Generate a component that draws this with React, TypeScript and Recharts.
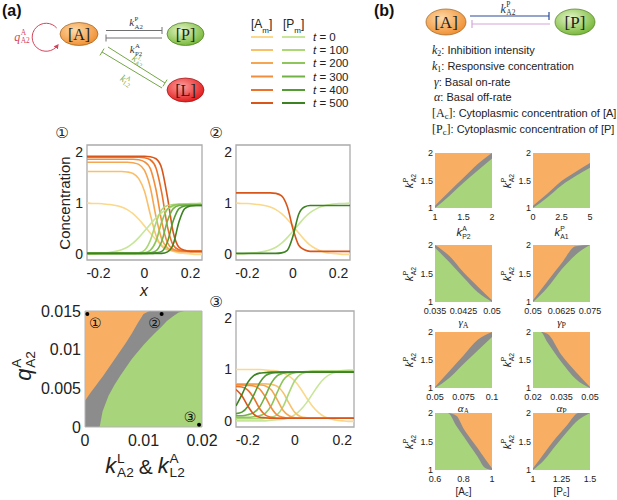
import React from 'react';
import { LineChart, Line, XAxis, YAxis, ComposedChart, Area, ReferenceArea, Scatter } from 'recharts';

const SANS = '"Liberation Sans", Arial, sans-serif';
const SERIF = '"Liberation Serif", "Times New Roman", serif';
const CIRC = '"DejaVu Sans", "Noto Sans CJK JP", sans-serif';

const A_COLORS = ['#FBD88A', '#F9C06A', '#F6A651', '#F28D3C', '#EA722A', '#D9561A'];
const P_COLORS = ['#C8E69A', '#ABD776', '#8FC65C', '#72B146', '#559B33', '#3D8222'];
const HM_ORANGE = '#F8AF63';
const HM_GRAY = '#8C8C8C';
const HM_GREEN = '#A8D47C';

const timeLabels = ['0', '100', '200', '300', '400', '500'];

// x positions of the concentration profiles
const xGrid = [-0.25, -0.225, -0.2, -0.175, -0.15, -0.125, -0.1, -0.075, -0.05, -0.025, 0, 0.025, 0.05, 0.075, 0.1, 0.125, 0.15, 0.175, 0.2, 0.225, 0.25];

// t = 0 profiles (panels 1 and 2)
const aT0 = [1.0, 0.99, 0.99, 0.98, 0.97, 0.95, 0.92, 0.87, 0.79, 0.68, 0.55, 0.41, 0.28, 0.17, 0.10, 0.05, 0.02, 0.01, 0.0, -0.01, -0.01];
const pT0 = [0.0, 0.0, 0.01, 0.02, 0.03, 0.05, 0.08, 0.13, 0.21, 0.32, 0.45, 0.58, 0.71, 0.81, 0.88, 0.93, 0.96, 0.98, 0.99, 0.99, 1.0];

// panel 1
const p1A100 = [1.62, 1.62, 1.62, 1.62, 1.62, 1.62, 1.62, 1.61, 1.58, 1.48, 1.23, 0.78, 0.36, 0.15, 0.08, 0.06, 0.05, 0.05, 0.05, 0.05, 0.05];
const p1A200 = [1.8, 1.8, 1.8, 1.8, 1.8, 1.8, 1.8, 1.8, 1.79, 1.76, 1.64, 1.31, 0.73, 0.29, 0.12, 0.07, 0.05, 0.05, 0.05, 0.05, 0.05];
const p1A300 = [1.86, 1.86, 1.86, 1.86, 1.86, 1.86, 1.86, 1.86, 1.86, 1.85, 1.81, 1.68, 1.26, 0.63, 0.22, 0.09, 0.06, 0.05, 0.05, 0.05, 0.05];
const p1A400 = [1.9, 1.9, 1.9, 1.9, 1.9, 1.9, 1.9, 1.9, 1.9, 1.9, 1.89, 1.85, 1.69, 1.2, 0.53, 0.17, 0.08, 0.06, 0.05, 0.05, 0.05];
const p1A500 = [1.92, 1.92, 1.92, 1.92, 1.92, 1.92, 1.92, 1.92, 1.92, 1.92, 1.92, 1.91, 1.87, 1.68, 1.11, 0.42, 0.13, 0.07, 0.05, 0.05, 0.05];
const p1P100 = [0.01, 0.01, 0.01, 0.01, 0.01, 0.01, 0.01, 0.01, 0.01, 0.02, 0.07, 0.26, 0.61, 0.87, 0.95, 0.97, 0.98, 0.98, 0.98, 0.98, 0.98];
const p1P200 = [0.01, 0.01, 0.01, 0.01, 0.01, 0.01, 0.01, 0.01, 0.01, 0.01, 0.02, 0.07, 0.25, 0.63, 0.88, 0.95, 0.97, 0.97, 0.97, 0.97, 0.97];
const p1P300 = [0.01, 0.01, 0.01, 0.01, 0.01, 0.01, 0.01, 0.01, 0.01, 0.01, 0.01, 0.02, 0.06, 0.25, 0.65, 0.89, 0.95, 0.96, 0.96, 0.96, 0.96];
const p1P400 = [0.01, 0.01, 0.01, 0.01, 0.01, 0.01, 0.01, 0.01, 0.01, 0.01, 0.01, 0.01, 0.02, 0.05, 0.24, 0.65, 0.89, 0.94, 0.95, 0.95, 0.95];
const p1P500 = [0.01, 0.01, 0.01, 0.01, 0.01, 0.01, 0.01, 0.01, 0.01, 0.01, 0.01, 0.01, 0.01, 0.01, 0.04, 0.19, 0.63, 0.89, 0.94, 0.95, 0.95];

// panel 2
const p2A500 = [1.2, 1.2, 1.2, 1.2, 1.2, 1.2, 1.2, 1.19, 1.14, 0.93, 0.49, 0.17, 0.08, 0.05, 0.05, 0.05, 0.05, 0.05, 0.05, 0.05, 0.05];
const p2P500 = [0.01, 0.01, 0.01, 0.01, 0.01, 0.01, 0.01, 0.01, 0.02, 0.07, 0.35, 0.78, 0.92, 0.95, 0.95, 0.95, 0.95, 0.95, 0.95, 0.95, 0.95];

// panel 3
const p3A0 = [1, 1, 1, 1, 1, 0.99, 0.98, 0.97, 0.93, 0.87, 0.77, 0.62, 0.44, 0.28, 0.16, 0.08, 0.04, 0.01, 0, -0.01, -0.01];
const p3A100 = [0.72, 0.72, 0.72, 0.72, 0.72, 0.72, 0.71, 0.67, 0.55, 0.34, 0.16, 0.08, 0.06, 0.05, 0.05, 0.05, 0.05, 0.05, 0.05, 0.05, 0.05];
const p3A200 = [0.71, 0.71, 0.71, 0.71, 0.7, 0.68, 0.6, 0.41, 0.2, 0.1, 0.06, 0.05, 0.05, 0.05, 0.05, 0.05, 0.05, 0.05, 0.05, 0.05, 0.05];
const p3A300 = [0.7, 0.7, 0.69, 0.68, 0.62, 0.46, 0.25, 0.11, 0.07, 0.05, 0.05, 0.05, 0.05, 0.05, 0.05, 0.05, 0.05, 0.05, 0.05, 0.05, 0.05];
const p3A400 = [0.67, 0.66, 0.6, 0.45, 0.24, 0.11, 0.07, 0.05, 0.05, 0.05, 0.05, 0.05, 0.05, 0.05, 0.05, 0.05, 0.05, 0.05, 0.05, 0.05, 0.05];
const p3A500 = [0.61, 0.49, 0.29, 0.13, 0.07, 0.06, 0.05, 0.05, 0.05, 0.05, 0.05, 0.05, 0.05, 0.05, 0.05, 0.05, 0.05, 0.05, 0.05, 0.05, 0.05];
const p3P0 = [0, 0, 0, 0, 0, 0, 0.01, 0.02, 0.03, 0.06, 0.12, 0.22, 0.36, 0.53, 0.7, 0.83, 0.91, 0.95, 0.98, 0.99, 0.99];
const p3P100 = [0.04, 0.04, 0.04, 0.04, 0.04, 0.05, 0.07, 0.12, 0.28, 0.55, 0.79, 0.91, 0.95, 0.97, 0.97, 0.97, 0.97, 0.97, 0.97, 0.97, 0.97];
const p3P200 = [0.07, 0.07, 0.07, 0.08, 0.1, 0.15, 0.3, 0.56, 0.79, 0.9, 0.94, 0.95, 0.96, 0.96, 0.96, 0.96, 0.96, 0.96, 0.96, 0.96, 0.96];
const p3P300 = [0.1, 0.1, 0.12, 0.16, 0.27, 0.49, 0.74, 0.88, 0.93, 0.94, 0.95, 0.95, 0.95, 0.95, 0.95, 0.95, 0.95, 0.95, 0.95, 0.95, 0.95];
const p3P400 = [0.14, 0.17, 0.28, 0.5, 0.74, 0.88, 0.93, 0.94, 0.95, 0.95, 0.95, 0.95, 0.95, 0.95, 0.95, 0.95, 0.95, 0.95, 0.95, 0.95, 0.95];
const p3P500 = [0.29, 0.51, 0.75, 0.88, 0.93, 0.94, 0.95, 0.95, 0.95, 0.95, 0.95, 0.95, 0.95, 0.95, 0.95, 0.95, 0.95, 0.95, 0.95, 0.95, 0.95];

// phase diagram (a): boundaries of the grey band vs k
const hmX = [0, 0.001, 0.002, 0.0025, 0.003, 0.004, 0.005, 0.006, 0.007, 0.008, 0.009, 0.01, 0.011, 0.012, 0.013, 0.014, 0.015, 0.016, 0.017, 0.018, 0.019, 0.02];
const hmOrangeEdge = [0.0034, 0.0045, 0.0055, 0.006, 0.0065, 0.0076, 0.0087, 0.0098, 0.0109, 0.0121, 0.0134, 0.0146, 0.015, 0.015, 0.015, 0.015, 0.015, 0.015, 0.015, 0.015, 0.015, 0.015];
const hmGreenEdge = [0, 0, 0, 0, 0.002, 0.004, 0.0054, 0.0066, 0.0077, 0.0088, 0.0097, 0.0106, 0.0114, 0.0122, 0.0129, 0.0137, 0.0143, 0.0148, 0.015, 0.015, 0.015, 0.015];
const markerX = [0.0004, 0.0131, 0.0195];
const markerY = [0.0146, 0.0146, 0.0003];
const markerText = ['①', '②', '③'];
const markerTextOffset = [[8, 9], [-7, 9], [-9, -8]];

// panel (b) mini phase diagrams
const b1X = [1, 1.25, 1.5, 1.75, 2];
const b1Lo = [1, 1.22, 1.46, 1.68, 1.9];
const b1Hi = [1.04, 1.3, 1.55, 1.8, 2];
const b2X = [0, 1.25, 2.5, 3.75, 5];
const b2Lo = [1, 1.19, 1.41, 1.58, 1.73];
const b2Hi = [1.04, 1.26, 1.49, 1.66, 1.82];
const b3X = [0.035, 0.03875, 0.0425, 0.04625, 0.05];
const b3Lo = [1.95, 1.7, 1.43, 1.17, 1.0];
const b3Hi = [2, 1.81, 1.52, 1.27, 1.03];
const b4X = [0.05, 0.05625, 0.0625, 0.06875, 0.075];
const b4Lo = [1, 1.25, 1.57, 1.83, 2];
const b4Hi = [1.03, 1.36, 1.68, 1.98, 2];
const b5X = [0.05, 0.0625, 0.075, 0.0875, 0.1];
const b5Lo = [1, 1.18, 1.43, 1.67, 1.91];
const b5Hi = [1.02, 1.3, 1.58, 1.86, 2];
const b6X = [0.02, 0.024, 0.0275, 0.035, 0.0425, 0.05];
const b6Lo = [2, 2, 1.82, 1.46, 1.16, 1];
const b6Hi = [2, 2, 1.97, 1.59, 1.29, 1.02];
const b7X = [0.6, 0.69, 0.75, 0.8, 0.85, 0.9, 0.95, 1];
const b7Lo = [2, 2, 1.77, 1.59, 1.41, 1.23, 1.04, 1];
const b7Hi = [2, 2, 1.95, 1.73, 1.55, 1.38, 1.2, 1.03];
const b8X = [1, 1.1, 1.2, 1.3, 1.4, 1.5];
const b8Lo = [1, 1.18, 1.43, 1.67, 1.88, 2];
const b8Hi = [1.03, 1.3, 1.56, 1.79, 2, 2];

const b1Ticks = [1, 1.5, 2];
const b2Ticks = [0, 2.5, 5];
const b3Ticks = [0.035, 0.0425, 0.05];
const b4Ticks = [0.05, 0.0625, 0.075];
const b5Ticks = [0.05, 0.075, 0.1];
const b6Ticks = [0.02, 0.035, 0.05];
const b7Ticks = [0.6, 0.8, 1];
const b8Ticks = [1, 1.25, 1.5];
const bYTicks = [1, 1.5, 2];

function At({ x, y, rotate = 0, children, style = {} }: any) {
  return (
    <div style={{ position: 'absolute', left: x, top: y, transform: `translate(-50%, -50%) rotate(${rotate}deg)`, whiteSpace: 'nowrap', lineHeight: 1, ...style }}>
      {children}
    </div>
  );
}

function Kss({ base, sup, sub, size, color = '#222', font = SERIF, scriptFont, italic = true }: any) {
  return (
    <span style={{ display: 'inline-flex', alignItems: 'center', fontFamily: font, fontSize: size, color, lineHeight: 1 }}>
      <span style={{ fontStyle: italic ? 'italic' : 'normal' }}>{base}</span>
      <span style={{ display: 'inline-flex', flexDirection: 'column', fontSize: '0.62em', lineHeight: 1.05, marginLeft: '0.06em', fontFamily: scriptFont || font }}>
        <span>{sup || '\u00a0'}</span>
        <span>{sub}</span>
      </span>
    </span>
  );
}

const tickStyle = (size: number) => ({ fontSize: size, fill: '#222', fontFamily: SANS });

function ConcPanel({ left, top, width, height, series }: any) {
  const data = xGrid.map((x, i) => {
    const row: any = { x };
    series.forEach((s: any, k: number) => { row['s' + k] = s.values[i]; });
    return row;
  });
  return (
    <div style={{ position: 'absolute', left, top }}>
      <LineChart width={width} height={height} data={data} margin={{ top: 6, right: 5, bottom: 0, left: 0 }}>
        <XAxis dataKey="x" type="number" domain={[-0.25, 0.25]} ticks={[-0.2, 0, 0.2]} allowDataOverflow interval={0}
          tickLine={false} axisLine={false} tickSize={6} tickMargin={2} height={25} tick={tickStyle(14)} />
        <YAxis type="number" domain={[-0.12, 2.14]} ticks={[0, 1, 2]} allowDataOverflow interval={0} width={27}
          tickLine={false} axisLine={false} tickSize={2} tickMargin={2} tick={tickStyle(14)} />
        <ReferenceArea x1={-0.25} x2={0.25} y1={-0.12} y2={2.14} fill="none" fillOpacity={0} stroke="#ababab" strokeWidth={1.3} ifOverflow="visible" />
        {series.map((s: any, k: number) => (
          <Line key={k} dataKey={'s' + k} type="monotone" stroke={s.color} strokeWidth={1.6} dot={false} activeDot={false} isAnimationActive={false} />
        ))}
      </LineChart>
    </div>
  );
}

function MiniMap({ left, top, height, xs, lo, hi, ticks }: any) {
  const data = xs.map((x: number, i: number) => ({ x, g: [1, 2], m: [lo[i], 2], o: [hi[i], 2] }));
  return (
    <div style={{ position: 'absolute', left, top }}>
      <ComposedChart width={89} height={height} data={data} margin={{ top: 4, right: 12, bottom: 0, left: 0 }}>
        <XAxis dataKey="x" type="number" domain={[xs[0], xs[xs.length - 1]]} ticks={ticks} allowDataOverflow interval={0}
          tickLine={false} axisLine={false} tickSize={5} tickMargin={1} height={14} tick={tickStyle(9)} />
        <YAxis type="number" domain={[1, 2]} ticks={bYTicks} allowDataOverflow interval={0} width={20}
          tickLine={false} axisLine={false} tickSize={1} tickMargin={1} tick={tickStyle(9)} />
        <Area dataKey="g" type="linear" fill={HM_GREEN} fillOpacity={1} stroke="none" isAnimationActive={false} />
        <Area dataKey="m" type="monotone" fill={HM_GRAY} fillOpacity={1} stroke="none" isAnimationActive={false} />
        <Area dataKey="o" type="monotone" fill={HM_ORANGE} fillOpacity={1} stroke="none" isAnimationActive={false} />
      </ComposedChart>
    </div>
  );
}

function PhaseMap() {
  const data = hmX.map((x, i) => ({ x, g: [0, 0.015], m: [hmGreenEdge[i], 0.015], o: [hmOrangeEdge[i], 0.015] }));
  const markers = markerX.map((x, i) => ({ x, y: markerY[i], label: markerText[i], off: markerTextOffset[i] }));
  return (
    <div style={{ position: 'absolute', left: 10, top: 295 }}>
      <ComposedChart width={212} height={162} data={data} margin={{ top: 16, right: 20, bottom: 0, left: 0 }}>
        <XAxis dataKey="x" type="number" domain={[0, 0.02]} ticks={[0, 0.01, 0.02]} allowDataOverflow interval={0}
          tickLine={false} axisLine={false} tickSize={6} tickMargin={2} height={30} tick={tickStyle(16)} />
        <YAxis type="number" domain={[0, 0.015]} ticks={[0, 0.005, 0.01, 0.015]} allowDataOverflow interval={0} width={75}
          tickLine={false} axisLine={false} tickSize={2} tickMargin={2} tick={tickStyle(16)} />
        <Area dataKey="g" type="linear" fill={HM_GREEN} fillOpacity={1} stroke="none" isAnimationActive={false} />
        <Area dataKey="m" type="linear" fill={HM_GRAY} fillOpacity={1} stroke="none" isAnimationActive={false} />
        <Area dataKey="o" type="linear" fill={HM_ORANGE} fillOpacity={1} stroke="none" isAnimationActive={false} />
        <ReferenceArea x1={0} x2={0.02} y1={0} y2={0.015} fill="none" fillOpacity={0} stroke="#b5b5b5" strokeWidth={1} ifOverflow="visible" />
        <Scatter data={markers} dataKey="y" isAnimationActive={false}
          shape={(p: any) => (
            <g>
              <circle cx={p.cx} cy={p.cy} r={2} fill="#000" />
              <text x={p.cx + p.payload.off[0]} y={p.cy + p.payload.off[1]} textAnchor="middle" dominantBaseline="central" fontSize={14} fontFamily={CIRC} fill="#111">{p.payload.label}</text>
            </g>
          )} />
      </ComposedChart>
    </div>
  );
}

const legendRows = [37, 50, 63, 76.5, 90, 103];

function DiagramA() {
  return (
    <svg width={380} height={120} style={{ position: 'absolute', left: 0, top: 0 }}>
      <defs>
        <radialGradient id="gA" cx="40%" cy="35%" r="70%">
          <stop offset="0%" stopColor="#FDD9A8" />
          <stop offset="100%" stopColor="#F08C2C" />
        </radialGradient>
        <radialGradient id="gP" cx="40%" cy="35%" r="70%">
          <stop offset="0%" stopColor="#E4F5C8" />
          <stop offset="100%" stopColor="#72B531" />
        </radialGradient>
        <radialGradient id="gL" cx="40%" cy="35%" r="70%">
          <stop offset="0%" stopColor="#FF9C9C" />
          <stop offset="100%" stopColor="#E01414" />
        </radialGradient>
        <marker id="arrRed" viewBox="0 0 10 10" refX="6" refY="5" markerWidth="5" markerHeight="5" orient="auto">
          <path d="M0,0 L10,5 L0,10 z" fill="#D2465A" />
        </marker>
      </defs>
      <text x={2} y={16} fontFamily={SANS} fontWeight="bold" fontSize={16} fill="#111">(a)</text>
      <path d="M 56.7 28 A 14 14 0 1 0 57.5 45.5" fill="none" stroke="#D2465A" strokeWidth={1} markerEnd="url(#arrRed)" />
      <ellipse cx={79} cy={34} rx={19} ry={11.5} fill="url(#gA)" stroke="#9A6222" strokeWidth={0.7} />
      <ellipse cx={185.5} cy={34} rx={18.5} ry={11.5} fill="url(#gP)" stroke="#4E7A22" strokeWidth={0.7} />
      <ellipse cx={185.5} cy={90} rx={18.5} ry={12} fill="url(#gL)" stroke="#991010" strokeWidth={0.7} />
      <text x={79} y={39.5} textAnchor="middle" fontFamily={SERIF} fontSize={16} fill="#222">[A]</text>
      <text x={185.5} y={39.5} textAnchor="middle" fontFamily={SERIF} fontSize={16} fill="#222">[P]</text>
      <text x={185.5} y={95.5} textAnchor="middle" fontFamily={SERIF} fontSize={16} fill="#222">[L]</text>
      <g stroke="#707070" strokeWidth={1}>
        <line x1={106} y1={30.5} x2={162} y2={30.5} />
        <line x1={162} y1={27} x2={162} y2={34} />
        <line x1={106} y1={38} x2={162} y2={38} />
        <line x1={106} y1={34.5} x2={106} y2={41.5} />
      </g>
      <g stroke="#74A845" strokeWidth={1}>
        <line x1={108} y1={47} x2={165} y2={83} />
        <line x1={162.9} y1={86.4} x2={167.1} y2={79.6} />
        <line x1={102} y1={52} x2={162} y2={88} />
        <line x1={99.9} y1={55.4} x2={104.1} y2={48.6} />
      </g>
      <text x={251} y={28} fontFamily={SANS} fontSize={12} fill="#222">[A<tspan baselineShift="sub" fontSize={8}>m</tspan>]</text>
      <text x={283} y={28} fontFamily={SANS} fontSize={12} fill="#222">[P<tspan baselineShift="sub" fontSize={8}>m</tspan>]</text>
      {timeLabels.map((t, i) => (
        <g key={t}>
          <line x1={251} x2={273} y1={legendRows[i]} y2={legendRows[i]} stroke={A_COLORS[i]} strokeWidth={2} />
          <line x1={282} x2={305} y1={legendRows[i]} y2={legendRows[i]} stroke={P_COLORS[i]} strokeWidth={2} />
          <text x={313} y={legendRows[i] + 4} fontFamily={SANS} fontSize={11.5} fill="#222"><tspan fontStyle="italic">t</tspan> = {t}</text>
        </g>
      ))}
    </svg>
  );
}

function DiagramB() {
  return (
    <svg width={245} height={40} style={{ position: 'absolute', left: 372, top: 0 }}>
      <defs>
        <radialGradient id="gA2" cx="40%" cy="35%" r="70%">
          <stop offset="0%" stopColor="#FDD9A8" />
          <stop offset="100%" stopColor="#F08C2C" />
        </radialGradient>
        <radialGradient id="gP2" cx="40%" cy="35%" r="70%">
          <stop offset="0%" stopColor="#E4F5C8" />
          <stop offset="100%" stopColor="#72B531" />
        </radialGradient>
      </defs>
      <text x={2} y={16} fontFamily={SANS} fontWeight="bold" fontSize={16} fill="#111">(b)</text>
      <ellipse cx={74} cy={22} rx={20} ry={13} fill="url(#gA2)" stroke="#9A6222" strokeWidth={0.7} />
      <ellipse cx={203} cy={22} rx={20} ry={13} fill="url(#gP2)" stroke="#4E7A22" strokeWidth={0.7} />
      <text x={74} y={28} textAnchor="middle" fontFamily={SERIF} fontSize={17} fill="#222">[A]</text>
      <text x={203} y={28} textAnchor="middle" fontFamily={SERIF} fontSize={17} fill="#222">[P]</text>
      <g stroke="#2B4A9A" strokeWidth={1.2}>
        <line x1={98} y1={16} x2={177} y2={16} />
        <line x1={177} y1={12} x2={177} y2={20} />
      </g>
      <g stroke="#D6A6DA" strokeWidth={1.2}>
        <line x1={100} y1={24} x2={178} y2={24} />
        <line x1={100} y1={20} x2={100} y2={28} />
      </g>
    </svg>
  );
}

const subStyle: any = { fontSize: '0.72em', verticalAlign: '-0.25em', lineHeight: 0 };
const subStyleLow: any = { fontSize: '0.72em', verticalAlign: '-0.15em', lineHeight: 0 };

const miniCols = [415, 513];
const miniRows = [
  { top: 149, height: 73, title: 231 },
  { top: 241, height: 75, title: 321 },
  { top: 328, height: 74, title: 407 },
  { top: 409, height: 75, title: 490 },
];

export default function App() {
  const p1Series = [
    { values: aT0, color: A_COLORS[0] }, { values: p1A100, color: A_COLORS[1] }, { values: p1A200, color: A_COLORS[2] },
    { values: p1A300, color: A_COLORS[3] }, { values: p1A400, color: A_COLORS[4] }, { values: p1A500, color: A_COLORS[5] },
    { values: pT0, color: P_COLORS[0] }, { values: p1P100, color: P_COLORS[1] }, { values: p1P200, color: P_COLORS[2] },
    { values: p1P300, color: P_COLORS[3] }, { values: p1P400, color: P_COLORS[4] }, { values: p1P500, color: P_COLORS[5] },
  ];
  const p2Series = [
    { values: aT0, color: A_COLORS[0] }, { values: pT0, color: P_COLORS[0] },
    { values: p2A500, color: A_COLORS[5] }, { values: p2P500, color: P_COLORS[5] },
  ];
  const p3Series = [
    { values: p3A0, color: A_COLORS[0] }, { values: p3P0, color: P_COLORS[0] },
    { values: p3A100, color: A_COLORS[1] }, { values: p3P100, color: P_COLORS[1] },
    { values: p3A200, color: A_COLORS[2] }, { values: p3P200, color: P_COLORS[2] },
    { values: p3A300, color: A_COLORS[3] }, { values: p3P300, color: P_COLORS[3] },
    { values: p3A400, color: A_COLORS[4] }, { values: p3P400, color: P_COLORS[4] },
    { values: p3A500, color: A_COLORS[5] }, { values: p3P500, color: P_COLORS[5] },
  ];
  const minis = [
    { xs: b1X, lo: b1Lo, hi: b1Hi, ticks: b1Ticks, title: <Kss base="k" sup="A" sub="P2" size={11} font={SANS} /> },
    { xs: b2X, lo: b2Lo, hi: b2Hi, ticks: b2Ticks, title: <Kss base="k" sup="P" sub="A1" size={11} font={SANS} /> },
    { xs: b3X, lo: b3Lo, hi: b3Hi, ticks: b3Ticks, title: <span style={{ fontFamily: SERIF, fontSize: 11 }}><i>γ</i><sub style={subStyle}>A</sub></span> },
    { xs: b4X, lo: b4Lo, hi: b4Hi, ticks: b4Ticks, title: <span style={{ fontFamily: SERIF, fontSize: 11 }}><i>γ</i><sub style={subStyle}>P</sub></span> },
    { xs: b5X, lo: b5Lo, hi: b5Hi, ticks: b5Ticks, title: <span style={{ fontFamily: SERIF, fontSize: 11 }}><i>α</i><sub style={subStyle}>A</sub></span> },
    { xs: b6X, lo: b6Lo, hi: b6Hi, ticks: b6Ticks, title: <span style={{ fontFamily: SERIF, fontSize: 11 }}><i>α</i><sub style={subStyle}>P</sub></span> },
    { xs: b7X, lo: b7Lo, hi: b7Hi, ticks: b7Ticks, title: <span style={{ fontFamily: SANS, fontSize: 10 }}>[A<sub style={subStyleLow}>c</sub>]</span> },
    { xs: b8X, lo: b8Lo, hi: b8Hi, ticks: b8Ticks, title: <span style={{ fontFamily: SANS, fontSize: 10 }}>[P<sub style={subStyleLow}>c</sub>]</span> },
  ];

  return (
    <div style={{ position: 'absolute', left: 0, top: 0, width: 617, height: 500, background: '#fff', overflow: 'hidden', fontFamily: SANS, color: '#222' }}>
      <DiagramA />
      <At x={22} y={36}><Kss base="q" sup="A" sub="A2" size={12} color="#D2465A" font={SERIF} /></At>
      <At x={136} y={21}><Kss base="k" sup="P" sub="A2" size={11} color="#333" font={SERIF} /></At>
      <At x={136} y={48}><Kss base="k" sup="A" sub="P2" size={11} color="#333" font={SERIF} /></At>
      <At x={139} y={59} rotate={32}><Kss base="k" sup="L" sub="A2" size={10} color="#74A845" font={SERIF} /></At>
      <At x={127} y={79} rotate={32}><Kss base="k" sup="A" sub="L2" size={10} color="#74A845" font={SERIF} /></At>

      <At x={62} y={133} style={{ fontFamily: CIRC, fontSize: 15 }}>①</At>
      <At x={216} y={133} style={{ fontFamily: CIRC, fontSize: 15 }}>②</At>
      <At x={216} y={302} style={{ fontFamily: CIRC, fontSize: 15 }}>③</At>

      <ConcPanel left={60} top={139} width={147} height={146} series={p1Series} />
      <ConcPanel left={209} top={139} width={146} height={146} series={p2Series} />
      <ConcPanel left={209} top={305} width={150} height={147} series={p3Series} />
      <At x={64} y={203} rotate={-90} style={{ fontSize: 15 }}>Concentration</At>
      <At x={144} y={291} style={{ fontSize: 16, fontStyle: 'italic' }}>x</At>

      <PhaseMap />
      <At x={24} y={366} rotate={-90}><Kss base="q" sup="A" sub="A2" size={22} font={SANS} /></At>
      <At x={145} y={466}>
        <span style={{ display: 'inline-flex', alignItems: 'center', fontSize: 21 }}>
          <Kss base="k" sup="L" sub="A2" size={22} font={SANS} />
          <span style={{ margin: '0 5px' }}>&amp;</span>
          <Kss base="k" sup="A" sub="L2" size={22} font={SANS} />
        </span>
      </At>

      <DiagramB />
      <At x={508} y={8}><Kss base="k" sup="P" sub="A2" size={12} color="#333" font={SERIF} /></At>
      <div style={{ position: 'absolute', left: 432, top: 43, fontSize: 11, lineHeight: '15.8px', whiteSpace: 'nowrap', color: '#222' }}>
        <div><i style={{ fontFamily: SERIF, fontSize: 12 }}>k</i><sub style={{ ...subStyle, fontFamily: SERIF }}>2</sub>: Inhibition intensity</div>
        <div><i style={{ fontFamily: SERIF, fontSize: 12 }}>k</i><sub style={{ ...subStyle, fontFamily: SERIF }}>1</sub>: Responsive concentration</div>
        <div style={{ paddingLeft: 2 }}><i style={{ fontFamily: SERIF, fontSize: 12 }}>γ</i>: Basal on-rate</div>
        <div style={{ paddingLeft: 2 }}><i style={{ fontFamily: SERIF, fontSize: 12 }}>α</i>: Basal off-rate</div>
        <div><span style={{ fontFamily: SERIF, fontSize: 12 }}>[A<sub style={subStyle}>c</sub>]</span>: Cytoplasmic concentration of [A]</div>
        <div><span style={{ fontFamily: SERIF, fontSize: 12 }}>[P<sub style={subStyle}>c</sub>]</span>: Cytoplasmic concentration of [P]</div>
      </div>

      {minis.map((m, i) => {
        const col = i % 2;
        const row = miniRows[Math.floor(i / 2)];
        const left = miniCols[col];
        const plotTop = row.top + 4;
        const plotH = row.height - 18;
        return (
          <React.Fragment key={i}>
            <MiniMap left={left} top={row.top} height={row.height} xs={m.xs} lo={m.lo} hi={m.hi} ticks={m.ticks} />
            <At x={left - 7} y={plotTop + plotH / 2} rotate={-90}><Kss base="k" sup="P" sub="A2" size={11} font={SANS} /></At>
            <At x={left + 20 + 28.5} y={row.title}>{m.title}</At>
          </React.Fragment>
        );
      })}
    </div>
  );
}
